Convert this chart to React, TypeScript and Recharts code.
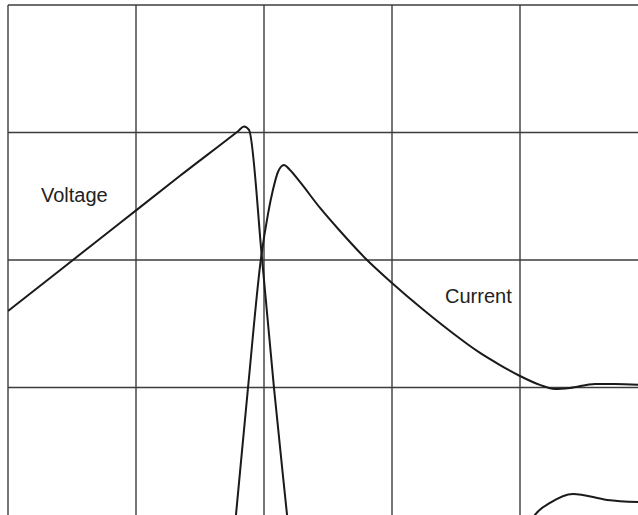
import { LineChart, Line, XAxis, YAxis, CartesianGrid } from "recharts";

// units are scope divisions
const voltageX = [0, 0.406, 0.875, 1.344, 1.797, 1.844, 1.883, 1.984, 2.078, 2.18, 2.28, 2.516, 3.22, 3.77, 3.96, 4.117, 4.234, 4.414, 4.68, 4.96];
const voltageY = [-0.4, -0.08, 0.29, 0.66, 1.01, 1.047, 1.02, 0.016, -1.004, -2.0, -2.98, -3.6, -3.76, -2.82, -2.35, -2.0, -1.906, -1.835, -1.882, -1.9];

const currentX = [1.688, 1.781, 1.875, 1.977, 2.031, 2.07, 2.109, 2.156, 2.203, 2.281, 2.438, 2.594, 2.789, 3.0, 3.219, 3.453, 3.688, 3.844, 4.0, 4.156, 4.273, 4.391, 4.586, 4.742, 4.96];
const currentY = [-2.98, -2.0, -1.004, 0.016, 0.36, 0.55, 0.69, 0.745, 0.706, 0.612, 0.408, 0.227, 0.016, -0.18, -0.369, -0.557, -0.729, -0.824, -0.91, -0.98, -1.012, -1.004, -0.973, -0.973, -0.98];

const xTicks = [0, 1, 2, 3, 4];
const yTicks = [2, 1, 0, -1];

const voltage = voltageX.map((x, i) => ({ t: x, v: voltageY[i] }));
const current = currentX.map((x, i) => ({ t: x, v: currentY[i] }));

export default function App() {
  return (
    <div style={{ position: "absolute", left: 0, top: 0, width: 638, height: 515, background: "#fff", overflow: "hidden" }}>
      <LineChart width={644} height={518} margin={{ top: 5, right: 0, bottom: 0, left: 8 }}>
        <CartesianGrid stroke="#3c3c3c" strokeWidth={1.4} />
        <XAxis type="number" dataKey="t" domain={[0, 4.96875]} ticks={xTicks} allowDataOverflow hide />
        <YAxis type="number" dataKey="v" domain={[-2.024, 2]} ticks={yTicks} allowDataOverflow hide />
        <Line data={voltage} dataKey="v" type="monotone" stroke="#1a1a1a" strokeWidth={2} dot={false} isAnimationActive={false} />
        <Line data={current} dataKey="v" type="monotone" stroke="#1a1a1a" strokeWidth={2} dot={false} isAnimationActive={false} />
      </LineChart>
      <svg width={638} height={515} style={{ position: "absolute", left: 0, top: 0, pointerEvents: "none" }}>
        <text x={41} y={202} fontFamily="Liberation Sans, Arial, sans-serif" fontSize={20} fill="#222">Voltage</text>
        <text x={445} y={303} fontFamily="Liberation Sans, Arial, sans-serif" fontSize={20} fill="#222">Current</text>
      </svg>
    </div>
  );
}
